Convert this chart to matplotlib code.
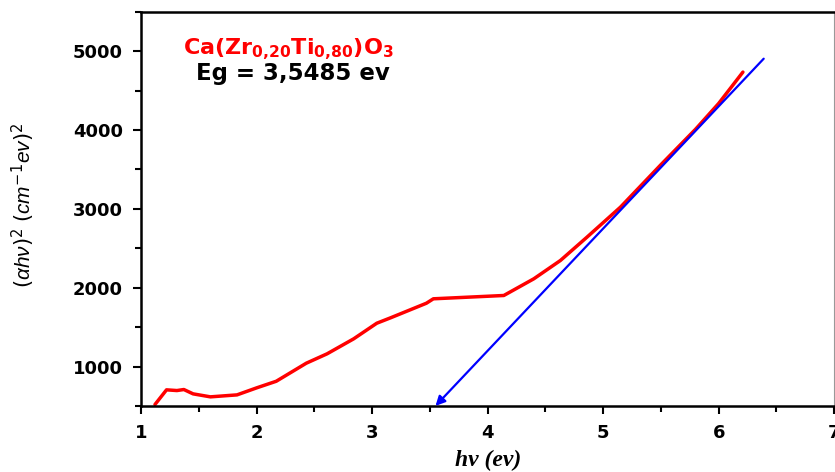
import numpy as np
import matplotlib
matplotlib.use("Agg")
import matplotlib.pyplot as plt
from matplotlib.ticker import MultipleLocator

plt.rcParams['mathtext.fontset'] = 'custom'
plt.rcParams['mathtext.rm'] = 'DejaVu Sans'
plt.rcParams['mathtext.bf'] = 'DejaVu Sans:bold'
plt.rcParams['mathtext.it'] = 'Liberation Sans:italic'

# measured curve (alpha h nu)^2 vs h nu
hv = [1.12, 1.22, 1.31, 1.37, 1.45, 1.60, 1.83, 2.00, 2.17, 2.43, 2.61, 2.84,
      3.04, 3.16, 3.47, 3.53, 4.14, 4.40, 4.63, 4.86, 5.15, 5.50, 5.80, 6.00, 6.21]
ahv2 = [518, 704, 695, 708, 653, 615, 640, 729, 813, 1042, 1161, 1351,
        1549, 1618, 1803, 1859, 1901, 2113, 2345, 2641, 3022, 3560, 4010, 4337, 4735]

# tangent line for band gap
eg = 3.5485
fit_start = (6.39, 4905)
fit_end = (eg, 500)

fig = plt.figure(figsize=(8.35, 4.72), dpi=100)
ax = fig.add_axes([0.169, 0.140, 0.830, 0.835])

ax.plot(hv, ahv2, color='red', lw=2.5, solid_capstyle='round')
ax.annotate('', xy=fit_end, xytext=fit_start,
            arrowprops=dict(arrowstyle='-|>', color='blue', lw=1.6,
                            mutation_scale=14, shrinkA=0, shrinkB=0))

ax.set_xlim(1, 7)
ax.set_ylim(500, 5500)
ax.xaxis.set_major_locator(MultipleLocator(1))
ax.xaxis.set_minor_locator(MultipleLocator(0.5))
ax.yaxis.set_major_locator(MultipleLocator(1000))
ax.yaxis.set_minor_locator(MultipleLocator(500))
ax.tick_params(which='major', direction='out', length=6, width=1.5, pad=7)
ax.tick_params(which='minor', direction='out', length=4, width=1.5)
for lab in ax.get_xticklabels() + ax.get_yticklabels():
    lab.set_fontweight('bold')
    lab.set_fontsize(13)
for side in ['left', 'bottom', 'top']:
    ax.spines[side].set_linewidth(1.8)
ax.spines['right'].set_linewidth(0.8)
ax.spines['right'].set_color('#999999')

ax.set_ylabel(r'$(\alpha h\nu)^2\ (cm^{-1}ev)^2$', fontsize=15)
ax.yaxis.set_label_coords(-0.150, 0.51)
ax.set_xlabel('hν (ev)', fontsize=17, fontweight='bold', fontstyle='italic',
              family='Liberation Serif', labelpad=6)

ax.text(0.212, 0.893, r'$\mathbf{Ca(Zr_{0{,}20}Ti_{0{,}80})O_{3}}$', color='red',
        fontsize=16, ha='center', transform=ax.transAxes)
ax.text(0.219, 0.828, 'Eg = 3,5485 ev', color='black', fontsize=16.5,
        fontweight='bold', ha='center', transform=ax.transAxes)

fig.savefig('out.png', dpi=100)
